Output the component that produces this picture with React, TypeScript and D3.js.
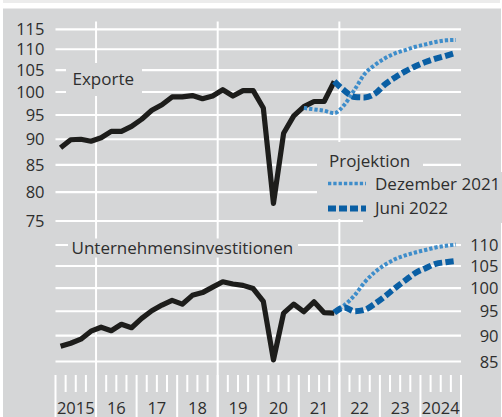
import React from "react";
import * as d3 from "d3";

// quarterly values, index 0 = 2015 Q1
const exportsActual = [
  88.3, 89.9, 90.0, 89.6, 90.3, 91.6, 91.6, 92.6, 94.1, 96.0, 97.2, 98.9, 98.9, 99.2,
  98.5, 99.1, 100.5, 99.1, 100.3, 100.3, 96.5, 78.0, 91.2, 94.8, 96.8, 97.9, 97.9, 102.4,
];
const exportsDez21 = [96.5, 96.2, 95.9, 95.4, 97.2, 100.5, 104.1, 106.2, 107.8, 109.0, 109.8, 110.6, 111.2, 111.8, 112.2, 112.3];
const exportsJun22 = [102.4, 100.3, 98.9, 98.8, 99.6, 101.7, 103.3, 104.7, 105.9, 106.9, 107.7, 108.4, 109.1];

const investActual = [
  87.9, 88.5, 89.3, 90.9, 91.7, 91.0, 92.3, 91.6, 93.5, 95.1, 96.3, 97.3, 96.5, 98.4,
  99.0, 100.2, 101.4, 100.9, 100.6, 99.9, 97.1, 85.3, 94.6, 96.5, 94.9, 97.0, 94.7, 94.6,
];
const investDez21 = [95.0, 96.3, 98.4, 101.3, 103.6, 105.3, 106.6, 107.5, 108.2, 108.8, 109.4, 109.8, 110.1];
const investJun22 = [94.7, 95.8, 95.0, 95.3, 96.6, 98.2, 100.0, 101.7, 103.4, 104.5, 105.5, 105.9, 106.2];

const topTicks = [75, 80, 85, 90, 95, 100, 105, 110, 115];
const bottomTicks = [85, 90, 95, 100, 105, 110];
const years = [2015, 2016, 2017, 2018, 2019, 2020, 2021, 2022, 2023, 2024];
const yearLabels = ["2015", "16", "17", "18", "19", "20", "21", "22", "23", "2024"];
const gridYears = [2016, 2019, 2022];

const PANEL = "#d5d6d7";
const TEXT = "#2e2e2e";
const LIGHT = "#3e8dca";
const DARK = "#0a5fa4";
const FONT = "'Open Sans', sans-serif";

const x = d3.scaleLinear().domain([2015, 2025]).range([55.5, 461]);
const yTop = d3.scaleLog().domain([75, 115]).range([221, 29.3]);
const yBot = d3.scaleLog().domain([85, 110]).range([361.5, 245]);

// offset = quarter index of first value (2015 Q1 = 0)
const makeLine = (y: d3.ScaleLogarithmic<number, number>, offset: number, curve = d3.curveLinear) =>
  d3
    .line<number>()
    .x((_, i) => x(2015 + (offset + i + 0.5) / 4))
    .y((d) => y(d))
    .curve(curve);

export default function App() {
  const quarterTicks = years.flatMap((yr) => [1, 2, 3].map((q) => yr + q / 4));
  const yearTicks = d3.range(2015, 2026);

  return (
    <svg
      width={502}
      height={417}
      style={{ position: "absolute", left: 0, top: 0, background: "#fff" }}
      fontFamily={FONT}
    >
      <rect x={3} y={0} width={497} height={3} fill="#ececec" />
      <rect x={3} y={8.5} width={498} height={409} fill={PANEL} />

      {/* horizontal grid */}
      {topTicks.map((t) => (
        <line key={"gt" + t} x1={x(2015)} x2={x(2025)} y1={yTop(t)} y2={yTop(t)} stroke="#fff" strokeWidth={2.2} />
      ))}
      {bottomTicks.map((t) => (
        <line key={"gb" + t} x1={x(2015)} x2={x(2025)} y1={yBot(t)} y2={yBot(t)} stroke="#fff" strokeWidth={2.2} />
      ))}

      {/* vertical grid every 3 years */}
      {gridYears.map((yr) => (
        <line key={"gv" + yr} x1={x(yr)} x2={x(yr)} y1={21.5} y2={417} stroke="#fff" strokeWidth={2} />
      ))}

      {/* time axis ticks */}
      {yearTicks.map((yr) => (
        <line key={"yt" + yr} x1={x(yr)} x2={x(yr)} y1={375} y2={417} stroke="#fff" strokeWidth={2} />
      ))}
      {quarterTicks.map((q) => (
        <line key={"qt" + q} x1={x(q)} x2={x(q)} y1={375} y2={392} stroke="#fff" strokeWidth={2} />
      ))}

      {/* boxes behind labels */}
      <rect x={66} y={63} width={76} height={33} fill={PANEL} />
      <rect x={68} y={238.5} width={230} height={19} fill={PANEL} />
      <rect x={317} y={142} width={106} height={30} fill={PANEL} />
      <rect x={317} y={172} width={185} height={47} fill={PANEL} />
      <rect x={363} y={218} width={139} height={5} fill={PANEL} />

      {/* axis labels */}
      <g fontSize={16.5} fill={TEXT}>
        {topTicks.map((t) => (
          <text key={"lt" + t} x={44.5} y={yTop(t) + 6} textAnchor="end">
            {t}
          </text>
        ))}
        {bottomTicks.map((t) => (
          <text key={"lb" + t} x={498.5} y={yBot(t) + 6} textAnchor="end">
            {t}
          </text>
        ))}
        {years.map((yr, i) => (
          <text key={"yl" + yr} x={x(yr + 0.5)} y={413.5} textAnchor="middle">
            {yearLabels[i]}
          </text>
        ))}
      </g>

      <g fontSize={17} fill={TEXT}>
        <text x={72.5} y={85}>Exporte</text>
        <text x={71.5} y={253.5}>Unternehmensinvestitionen</text>
        <text x={329} y={166.5}>Projektion</text>
        <text x={375} y={190}>Dezember 2021</text>
        <text x={375} y={214}>Juni 2022</text>
      </g>

      {/* legend swatches */}
      <line x1={328} x2={366} y1={183.5} y2={183.5} stroke={LIGHT} strokeWidth={3.5} strokeDasharray="3.3,2" />
      <line x1={328} x2={366} y1={208.5} y2={208.5} stroke={DARK} strokeWidth={6} strokeDasharray="8,3" />

      {/* data */}
      <g fill="none" strokeLinejoin="round">
        <path d={makeLine(yTop, 0)(exportsActual) ?? ""} stroke="#1d1d1b" strokeWidth={5.2} />
        <path d={makeLine(yBot, 0)(investActual) ?? ""} stroke="#1d1d1b" strokeWidth={5.2} />

        <path d={makeLine(yTop, 24, d3.curveMonotoneX)(exportsDez21) ?? ""} stroke={LIGHT} strokeWidth={4} strokeDasharray="3.3,2" />
        <path d={makeLine(yBot, 27, d3.curveMonotoneX)(investDez21) ?? ""} stroke={LIGHT} strokeWidth={4} strokeDasharray="3.3,2" />

        <path d={makeLine(yTop, 27, d3.curveMonotoneX)(exportsJun22) ?? ""} stroke={DARK} strokeWidth={6} strokeDasharray="8.3,3.3" />
        <path d={makeLine(yBot, 27, d3.curveMonotoneX)(investJun22) ?? ""} stroke={DARK} strokeWidth={6} strokeDasharray="8.3,3.3" />
      </g>
    </svg>
  );
}
